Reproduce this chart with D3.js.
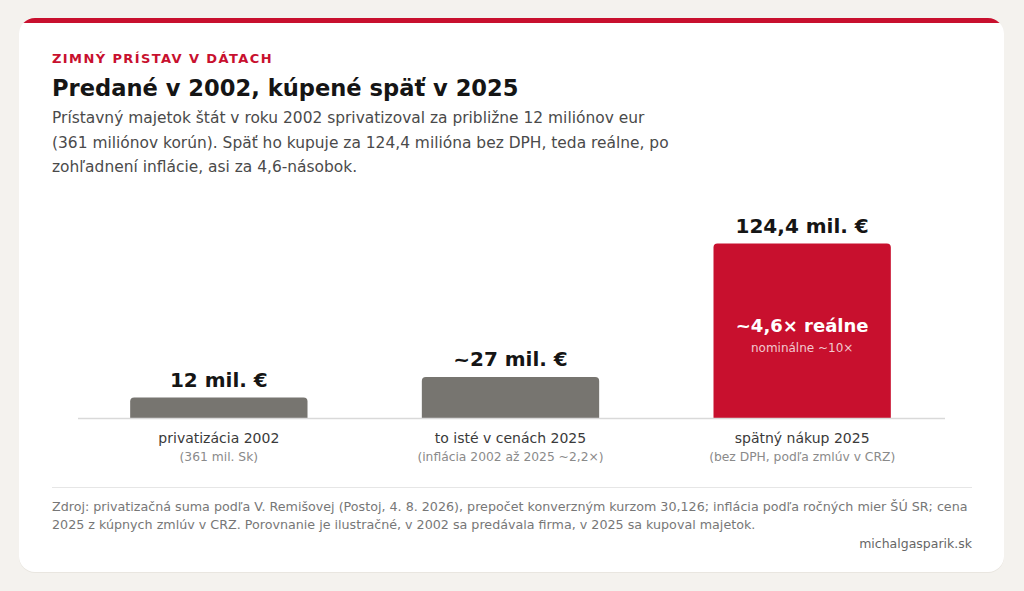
<!DOCTYPE html>
<html>
<head>
<meta charset="utf-8">
<script src="https://cdn.jsdelivr.net/npm/d3@7"></script>
<style>
  html, body { margin: 0; padding: 0; background: #f4f2ee; }
  svg { display: block; font-family: "DejaVu Sans", sans-serif; }
</style>
</head>
<body>
<div id="chart"></div>
<script>
var categories = ['privatizácia 2002', 'to isté v cenách 2025', 'spätný nákup 2025'],
    subLabels = ['(361 mil. Sk)', '(inflácia 2002 až 2025 ~2,2×)', '(bez DPH, podľa zmlúv v CRZ)'],
    values = [12, 27, 124.4],
    valueLabels = ['12 mil. €', '~27 mil. €', '124,4 mil. €'],
    barColors = ['#777570', '#777570', '#c8102e'];

var subtitleLines = [
  'Prístavný majetok štát v roku 2002 sprivatizoval za približne 12 miliónov eur',
  '(361 miliónov korún). Späť ho kupuje za 124,4 milióna bez DPH, teda reálne, po',
  'zohľadnení inflácie, asi za 4,6-násobok.'
];
var sourceLines = [
  'Zdroj: privatizačná suma podľa V. Remišovej (Postoj, 4. 8. 2026), prepočet konverzným kurzom 30,126; inflácia podľa ročných mier ŠÚ SR; cena',
  '2025 z kúpnych zmlúv v CRZ. Porovnanie je ilustračné, v 2002 sa predávala firma, v 2025 sa kupoval majetok.'
];

var W = 1024, H = 591, red = '#c8102e';

var svg = d3.select('#chart').append('svg')
  .attr('width', W)
  .attr('height', H);

// card
var card = {x: 19, y: 18, w: 985, h: 554, r: 16};
svg.append('clipPath').attr('id', 'cardClip')
  .append('rect')
  .attr('x', card.x).attr('y', card.y)
  .attr('width', card.w).attr('height', card.h)
  .attr('rx', card.r);

svg.append('rect')
  .attr('x', card.x).attr('y', card.y + 1)
  .attr('width', card.w).attr('height', card.h)
  .attr('rx', card.r)
  .attr('fill', '#e9e6e0');

svg.append('rect')
  .attr('x', card.x).attr('y', card.y)
  .attr('width', card.w).attr('height', card.h)
  .attr('rx', card.r)
  .attr('fill', '#fff');

svg.append('rect')
  .attr('clip-path', 'url(#cardClip)')
  .attr('x', card.x).attr('y', card.y)
  .attr('width', card.w).attr('height', 5)
  .attr('fill', red);

// header
svg.append('text')
  .attr('x', 52).attr('y', 63)
  .attr('fill', red)
  .attr('font-size', 13)
  .attr('font-weight', 'bold')
  .attr('letter-spacing', 1.4)
  .text('ZIMNÝ PRÍSTAV V DÁTACH');

svg.append('text')
  .attr('x', 52).attr('y', 96)
  .attr('fill', '#151515')
  .attr('font-size', 22.6)
  .attr('font-weight', 'bold')
  .text('Predané v 2002, kúpené späť v 2025');

svg.append('g').selectAll('text')
  .data(subtitleLines)
  .enter().append('text')
  .attr('x', 52)
  .attr('y', function(d, i) { return 123 + i * 24.5; })
  .attr('fill', '#4a4a4a')
  .attr('font-size', 15.45)
  .text(function(d) { return d; });

// scales
var baseline = 418, r = 4;
var x = d3.scaleBand()
  .domain(categories)
  .range([73, 948])
  .paddingInner(0.392)
  .paddingOuter(0.196);
var y = d3.scaleLinear()
  .domain([0, d3.max(values)])
  .range([baseline - r, 243.5]);

var data = categories.map(function(c, i) {
  return {cat: c, sub: subLabels[i], value: values[i], label: valueLabels[i], color: barColors[i]};
});

function barPath(d) {
  var x0 = x(d.cat), x1 = x0 + x.bandwidth(), top = y(d.value);
  return 'M' + x0 + ',' + baseline +
    'V' + (top + r) +
    'Q' + x0 + ',' + top + ' ' + (x0 + r) + ',' + top +
    'H' + (x1 - r) +
    'Q' + x1 + ',' + top + ' ' + x1 + ',' + (top + r) +
    'V' + baseline + 'Z';
}

var g = svg.append('g');

g.selectAll('path.bar')
  .data(data)
  .enter().append('path')
  .attr('class', 'bar')
  .attr('d', barPath)
  .attr('fill', function(d) { return d.color; });

// baseline
svg.append('line')
  .attr('x1', 78).attr('x2', 945)
  .attr('y1', baseline + 0.5).attr('y2', baseline + 0.5)
  .attr('stroke', '#d9d9d9')
  .attr('stroke-width', 1.5);

// value labels
g.selectAll('text.val')
  .data(data)
  .enter().append('text')
  .attr('class', 'val')
  .attr('x', function(d) { return x(d.cat) + x.bandwidth() / 2; })
  .attr('y', function(d) { return y(d.value) - 10.5; })
  .attr('text-anchor', 'middle')
  .attr('font-size', 20)
  .attr('font-weight', 'bold')
  .attr('fill', '#151515')
  .text(function(d) { return d.label; });

// category labels
g.selectAll('text.cat')
  .data(data)
  .enter().append('text')
  .attr('class', 'cat')
  .attr('x', function(d) { return x(d.cat) + x.bandwidth() / 2; })
  .attr('y', 443)
  .attr('text-anchor', 'middle')
  .attr('font-size', 14)
  .attr('fill', '#3a3a3a')
  .text(function(d) { return d.cat; });

g.selectAll('text.sub')
  .data(data)
  .enter().append('text')
  .attr('class', 'sub')
  .attr('x', function(d) { return x(d.cat) + x.bandwidth() / 2; })
  .attr('y', 460.5)
  .attr('text-anchor', 'middle')
  .attr('font-size', 12.3)
  .attr('fill', '#8a8a8a')
  .text(function(d) { return d.sub; });

// annotation inside last bar
var last = data[data.length - 1];
var cx = x(last.cat) + x.bandwidth() / 2;
svg.append('text')
  .attr('x', cx).attr('y', 332)
  .attr('text-anchor', 'middle')
  .attr('font-size', 18)
  .attr('font-weight', 'bold')
  .attr('fill', '#fff')
  .text('~4,6× reálne');
svg.append('text')
  .attr('x', cx).attr('y', 351.5)
  .attr('text-anchor', 'middle')
  .attr('font-size', 12)
  .attr('fill', '#fff')
  .attr('fill-opacity', 0.78)
  .text('nominálne ~10×');

// footer
svg.append('line')
  .attr('x1', 52).attr('x2', 972)
  .attr('y1', 487.5).attr('y2', 487.5)
  .attr('stroke', '#e6e6e6');

svg.append('g').selectAll('text')
  .data(sourceLines)
  .enter().append('text')
  .attr('x', 52)
  .attr('y', function(d, i) { return 511 + i * 17.5; })
  .attr('font-size', 12.7)
  .attr('fill', '#777')
  .text(function(d) { return d; });

svg.append('text')
  .attr('x', 972).attr('y', 548)
  .attr('text-anchor', 'end')
  .attr('font-size', 12.5)
  .attr('fill', '#666')
  .text('michalgasparik.sk');
</script>
</body>
</html>
